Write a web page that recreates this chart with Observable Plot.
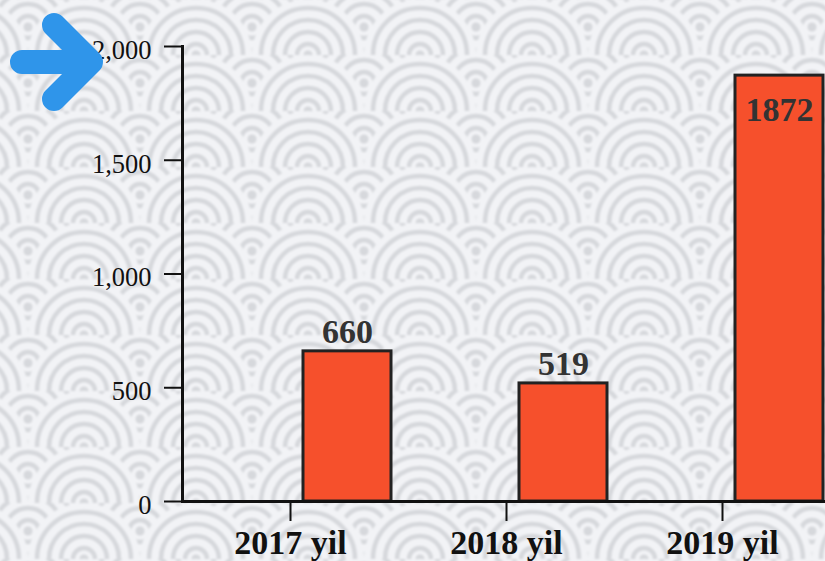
<!DOCTYPE html>
<html>
<head>
<meta charset="utf-8">
<script src="https://cdn.jsdelivr.net/npm/d3@7"></script>
<script src="https://cdn.jsdelivr.net/npm/@observablehq/plot@0.6"></script>
<style>
  html, body { margin: 0; padding: 0; }
  #wrap { position: relative; width: 825px; height: 561px; overflow: hidden; }
  #bg { position: absolute; left: -12px; top: -12px; width: 849px; height: 585px; filter: blur(0.9px); }
  #wrap > svg { position: relative; }
  #arrow { position: absolute !important; left: 0; top: 0; pointer-events: none; }
</style>
</head>
<body>
<div id="wrap"><div id="bg"></div></div>
<script>
// ---- data ----
const years = ["2017 yil", "2018 yil", "2019 yil"];
const counts = [660, 519, 1872];
const yTicks = [0, 500, 1000, 1500, 2000];

const data = years.map((year, i) => ({year, count: counts[i]}));

// ---- seigaiha background pattern ----
const base = "#f2f3f6", ring = "#d6d8dc";
function wave(cx, cy) {
  let s = `<circle cx="${cx}" cy="${cy}" r="56" fill="${base}"/>`;
  for (const r of [47, 35, 23, 11]) s += `<circle cx="${cx}" cy="${cy}" r="${r}" fill="none" stroke="${ring}" stroke-width="4.5"/>`;
  s += `<circle cx="${cx}" cy="${cy}" r="4.5" fill="${ring}"/>`;
  return s;
}
const tile = `<svg xmlns="http://www.w3.org/2000/svg" width="112" height="56"><rect width="112" height="56" fill="${base}"/>` +
  wave(56, -28) + wave(0, 0) + wave(112, 0) + wave(56, 28) + wave(0, 56) + wave(112, 56) + `</svg>`;
const wrap = document.getElementById("wrap");
const bg = document.getElementById("bg");
bg.style.backgroundImage = `url("data:image/svg+xml,${encodeURIComponent(tile)}")`;
bg.style.backgroundPosition = "96px 67px";

// ---- chart ----
const font = "'Liberation Serif', 'Times New Roman', serif";
const shift = 57;
const fmt = d3.format(",");
const chart = Plot.plot({
  width: 825,
  height: 561,
  marginLeft: 182,
  marginRight: 0,
  marginTop: 46,
  marginBottom: 60,
  style: {background: "transparent", fontFamily: font, overflow: "visible"},
  x: {domain: years, paddingInner: 0.5945, paddingOuter: 0.279, align: 0.52, label: null},
  y: {domain: [0, 2000], label: null},
  marks: [
    Plot.barY(data, {x: "year", y: "count", fill: "#f6502c", stroke: "#222", strokeWidth: 3, dx: shift}),
    Plot.text(data, {filter: d => d.count < 0.9 * d3.max(counts), x: "year", y: "count", text: d => String(d.count),
      dx: shift, dy: -8, lineAnchor: "bottom", fontSize: 34, fontWeight: "bold", fill: "#333"}),
    Plot.text(data, {filter: d => d.count >= 0.9 * d3.max(counts), x: "year", y: "count", text: d => String(d.count),
      dx: shift, dy: 21, lineAnchor: "top", fontSize: 34, fontWeight: "bold", fill: "#333"}),
    Plot.axisY({ticks: yTicks, tickSize: 18, tickFormat: () => "", stroke: "#111", strokeWidth: 2, label: null}),
    Plot.text(yTicks, {x: null, y: d => d, frameAnchor: "left", text: d => fmt(d), textAnchor: "end",
      dx: -31, dy: 4, fontSize: 26.5, fill: "#111"}),
    Plot.axisX({tickSize: 20, tickPadding: 8, fontSize: 34, fontWeight: "bold", fill: "#111", stroke: "#111", strokeWidth: 2, label: null}),
    Plot.ruleY([0], {stroke: "#111", strokeWidth: 3}),
    Plot.frame({anchor: "left", stroke: "#111", strokeWidth: 3})
  ]
});
wrap.appendChild(chart);

// ---- decorative arrow ----
const arrow = d3.create("svg").attr("id", "arrow").attr("width", 825).attr("height", 561);
arrow.append("path")
  .attr("d", "M22,62 L90,62 M54,25 L91,62 L54,99")
  .attr("fill", "none").attr("stroke", "#2f95ea").attr("stroke-width", 24)
  .attr("stroke-linecap", "round").attr("stroke-linejoin", "round");
wrap.appendChild(arrow.node());
</script>
</body>
</html>
